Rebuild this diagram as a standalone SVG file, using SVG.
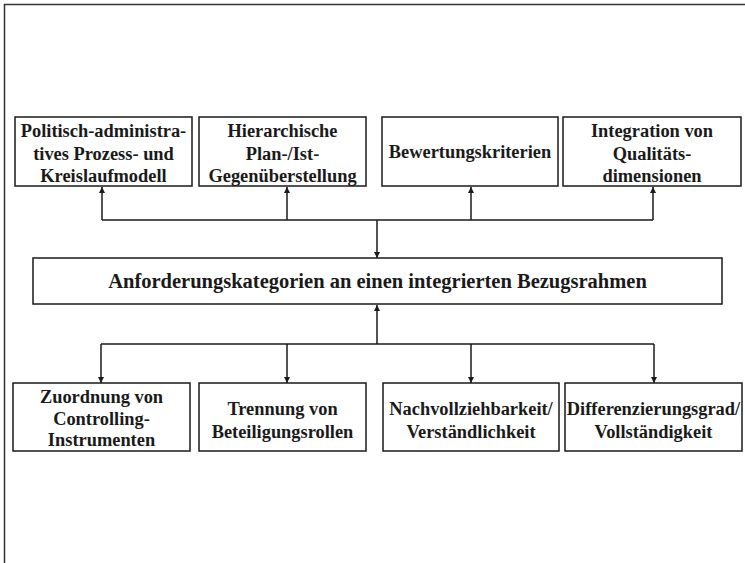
<svg xmlns="http://www.w3.org/2000/svg" width="745" height="563" viewBox="0 0 745 563">
  <style>
    .box { fill: #ffffff; stroke: #1a1a1a; stroke-width: 1.5; }
    .lbl { font-family: "Liberation Serif", "Times New Roman", serif; font-weight: bold; font-size: 18.4px; fill: #1a1a1a; text-anchor: middle; }
    .main { font-size: 20.5px; }
    .wire { fill: none; stroke: #1a1a1a; stroke-width: 1.5; }
    .frame { fill: none; stroke: #333333; stroke-width: 1.5; }
  </style>
  <defs>
    <marker id="arrow" viewBox="0 0 10 10" refX="10" refY="5" markerWidth="6" markerHeight="7" markerUnits="userSpaceOnUse" orient="auto">
      <path d="M0,0 L10,5 L0,10 Z" fill="#1a1a1a"/>
    </marker>
  </defs>

  <rect width="745" height="563" fill="#ffffff"/>
  <!-- outer frame (top and left edges) -->
  <path class="frame" d="M4.5,563 V4.5 H745"/>

  <!-- connectors -->
  <g id="connectors">
    <!-- upper distribution line -->
    <path class="wire" d="M102,220 H653"/>
    <path class="wire" d="M102,220 V187" marker-end="url(#arrow)"/>
    <path class="wire" d="M287,220 V187" marker-end="url(#arrow)"/>
    <path class="wire" d="M471,220 V187" marker-end="url(#arrow)"/>
    <path class="wire" d="M653,220 V187" marker-end="url(#arrow)"/>
    <path class="wire" d="M377,220 V258" marker-end="url(#arrow)"/>
    <!-- lower distribution line -->
    <path class="wire" d="M377,344 V305" marker-end="url(#arrow)"/>
    <path class="wire" d="M101,344 H654"/>
    <path class="wire" d="M101,344 V383" marker-end="url(#arrow)"/>
    <path class="wire" d="M287,344 V383" marker-end="url(#arrow)"/>
    <path class="wire" d="M471,344 V383" marker-end="url(#arrow)"/>
    <path class="wire" d="M654,344 V383" marker-end="url(#arrow)"/>
  </g>

  <!-- top row -->
  <g id="politisch">
    <rect class="box" x="15" y="117" width="177" height="69"/>
    <text class="lbl" x="103.5" y="137">Politisch-administra-</text>
    <text class="lbl" x="103.5" y="160">tives Prozess- und</text>
    <text class="lbl" x="103.5" y="182">Kreislaufmodell</text>
  </g>
  <g id="hierarchisch">
    <rect class="box" x="199" y="117" width="167" height="69"/>
    <text class="lbl" x="282.5" y="137">Hierarchische</text>
    <text class="lbl" x="282.5" y="160">Plan-/Ist-</text>
    <text class="lbl" x="282.5" y="182">Gegenüberstellung</text>
  </g>
  <g id="bewertung">
    <rect class="box" x="382" y="117" width="176" height="69"/>
    <text class="lbl" x="470" y="158">Bewertungskriterien</text>
  </g>
  <g id="integration">
    <rect class="box" x="563" y="117" width="178" height="69"/>
    <text class="lbl" x="652" y="137">Integration von</text>
    <text class="lbl" x="652" y="160">Qualitäts-</text>
    <text class="lbl" x="652" y="182">dimensionen</text>
  </g>

  <!-- central box -->
  <g id="anforderungen">
    <rect class="box" x="33" y="258" width="689" height="46"/>
    <text class="lbl main" x="377.5" y="288">Anforderungskategorien an einen integrierten Bezugsrahmen</text>
  </g>

  <!-- bottom row -->
  <g id="zuordnung">
    <rect class="box" x="13" y="383" width="177" height="68"/>
    <text class="lbl" x="101.5" y="403">Zuordnung von</text>
    <text class="lbl" x="101.5" y="425">Controlling-</text>
    <text class="lbl" x="101.5" y="446">Instrumenten</text>
  </g>
  <g id="trennung">
    <rect class="box" x="199" y="383" width="167" height="68"/>
    <text class="lbl" x="282.5" y="415">Trennung von</text>
    <text class="lbl" x="282.5" y="438">Beteiligungsrollen</text>
  </g>
  <g id="nachvollziehbarkeit">
    <rect class="box" x="383" y="383" width="176" height="68"/>
    <text class="lbl" x="471" y="415">Nachvollziehbarkeit/</text>
    <text class="lbl" x="471" y="438">Verständlichkeit</text>
  </g>
  <g id="differenzierung">
    <rect class="box" x="565" y="383" width="177" height="68"/>
    <text class="lbl" x="653.5" y="415">Differenzierungsgrad/</text>
    <text class="lbl" x="653.5" y="438">Vollständigkeit</text>
  </g>
</svg>
